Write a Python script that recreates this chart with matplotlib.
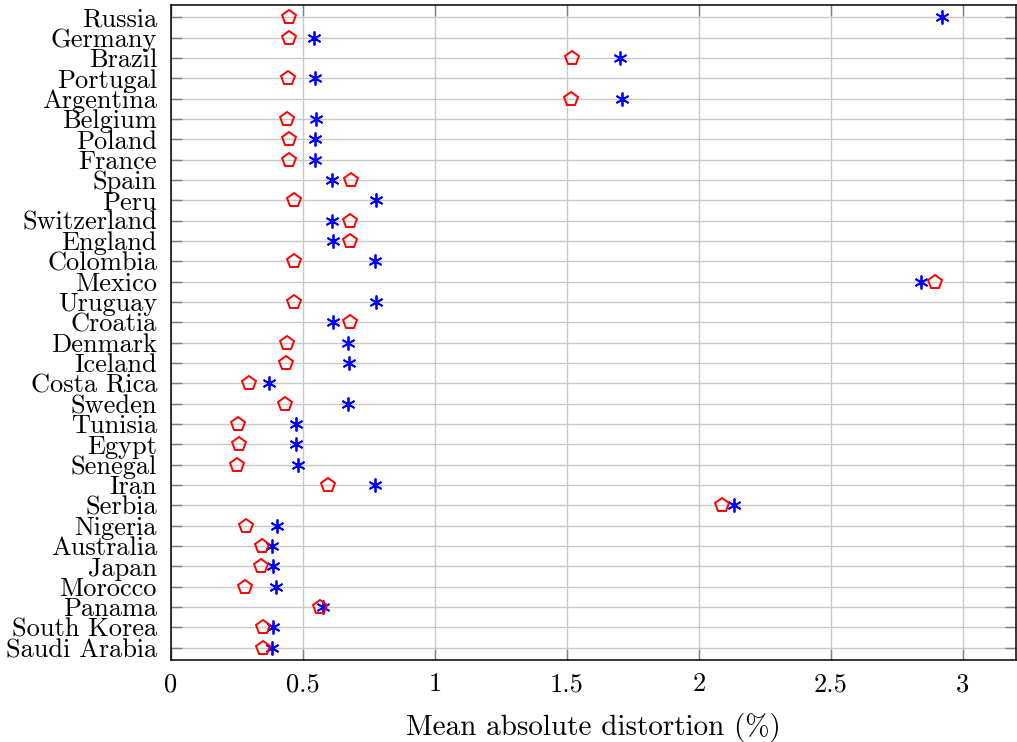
import matplotlib
matplotlib.use("Agg")
import matplotlib.pyplot as plt

# Data (top to bottom)
countries = ["Russia", "Germany", "Brazil", "Portugal", "Argentina", "Belgium",
             "Poland", "France", "Spain", "Peru", "Switzerland", "England",
             "Colombia", "Mexico", "Uruguay", "Croatia", "Denmark", "Iceland",
             "Costa Rica", "Sweden", "Tunisia", "Egypt", "Senegal", "Iran",
             "Serbia", "Nigeria", "Australia", "Japan", "Morocco", "Panama",
             "South Korea", "Saudi Arabia"]

red_vals = [0.447, 0.448, 1.520, 0.443, 1.515, 0.439, 0.448, 0.448, 0.681,
            0.467, 0.680, 0.680, 0.466, 2.896, 0.468, 0.677, 0.438, 0.437,
            0.297, 0.432, 0.254, 0.256, 0.251, 0.594, 2.087, 0.286, 0.345,
            0.341, 0.279, 0.565, 0.347, 0.347]

blue_vals = [2.923, 0.543, 1.701, 0.547, 1.710, 0.548, 0.544, 0.545, 0.609,
             0.777, 0.610, 0.615, 0.772, 2.843, 0.778, 0.615, 0.672, 0.676,
             0.370, 0.672, 0.475, 0.475, 0.482, 0.774, 2.135, 0.400, 0.383,
             0.385, 0.399, 0.576, 0.385, 0.383]

xticks = [0, 0.5, 1, 1.5, 2, 2.5, 3]
xtick_labels = ["0", "0.5", "1", "1.5", "2", "2.5", "3"]

plt.rcParams["font.family"] = ["cmr10", "DejaVu Serif"]
plt.rcParams["mathtext.fontset"] = "cm"
plt.rcParams["axes.unicode_minus"] = False

fig = plt.figure(figsize=(10.17, 7.42), dpi=100)
ax = fig.add_axes([0.1681, 0.1105, 0.8309, 0.8828])

ypos = list(range(len(countries)))

ax.plot(blue_vals, ypos, linestyle="none", marker=(6, 2, 0), markersize=10,
        markeredgecolor="blue", markeredgewidth=1.3, zorder=3)
ax.plot(red_vals, ypos, linestyle="none", marker="p", markersize=10,
        markerfacecolor="none", markeredgecolor="red", markeredgewidth=1.4,
        zorder=4)

ax.set_xlim(0, 3.202)
ax.set_ylim(len(countries) - 0.4, -0.6)
ax.set_yticks(ypos)
ax.set_yticklabels(countries, fontsize=19)
ax.set_xticks(xticks)
ax.set_xticklabels(xtick_labels, fontsize=19)

ax.grid(True, color="#c8c8c8", linewidth=1.0)
ax.set_axisbelow(True)

ax.tick_params(axis="both", direction="in", length=8, width=1.0,
               color="#808080", top=True, right=True)
ax.tick_params(axis="y", pad=10)
ax.tick_params(axis="x", pad=9)
for s in ax.spines.values():
    s.set_linewidth(1.1)

ax.set_xlabel("Mean absolute distortion (%)", fontsize=21, labelpad=12)

fig.savefig("out.png", dpi=100)
